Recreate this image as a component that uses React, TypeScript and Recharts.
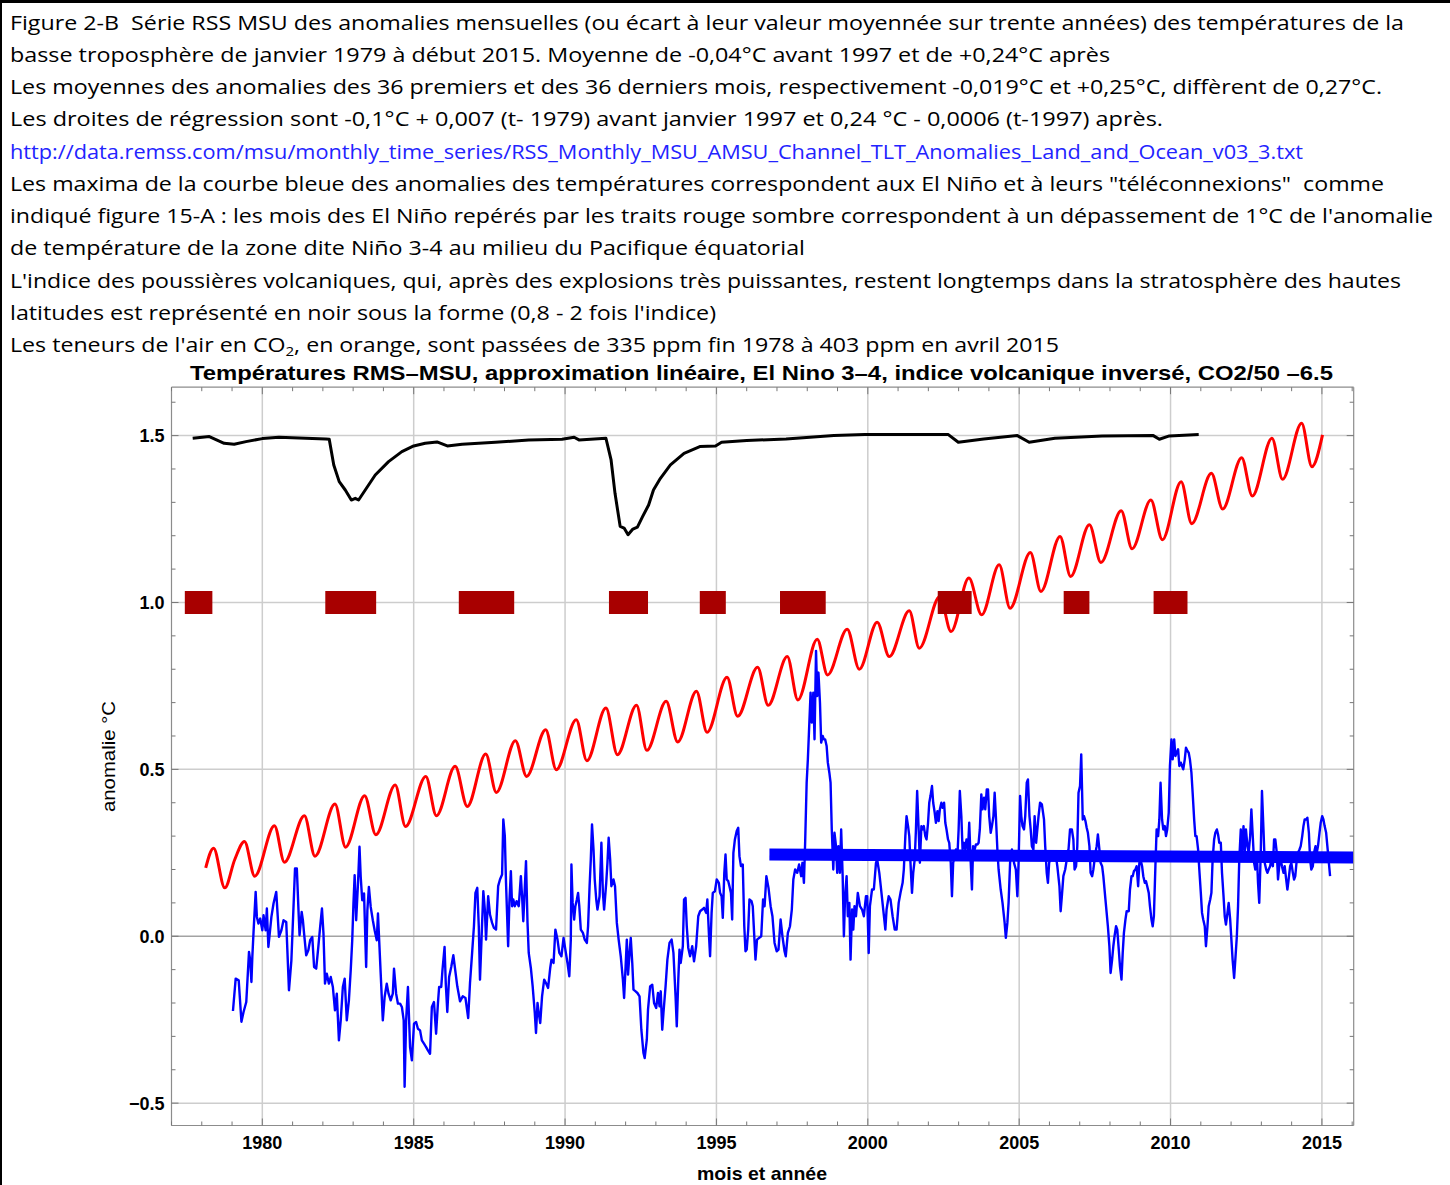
import React from 'react';
import { LineChart, Line, XAxis, YAxis, CartesianGrid } from 'recharts';

type P = [number, number];

// ---------- axes ----------
const X_DOMAIN: [number, number] = [1977, 2016.05];
const Y_DOMAIN: [number, number] = [-0.567, 1.645];
const yearTicks = [1977, 1978, 1979, 1980, 1981, 1982, 1983, 1984, 1985, 1986, 1987, 1988, 1989, 1990, 1991, 1992, 1993, 1994, 1995, 1996, 1997, 1998, 1999, 2000, 2001, 2002, 2003, 2004, 2005, 2006, 2007, 2008, 2009, 2010, 2011, 2012, 2013, 2014, 2015, 2016];
const yearLabels = [1980, 1985, 1990, 1995, 2000, 2005, 2010, 2015];
const valueTicks = [-0.5, -0.4, -0.3, -0.2, -0.1, 0, 0.1, 0.2, 0.3, 0.4, 0.5, 0.6, 0.7, 0.8, 0.9, 1, 1.1, 1.2, 1.3, 1.4, 1.5, 1.6];
const valueLabelTicks = [-0.5, 0, 0.5, 1, 1.5];
const valueLabelTexts = ['\u22120.5', '0.0', '0.5', '1.0', '1.5'];
const gridYears = [1980, 1985, 1990, 1995, 2000, 2005, 2010, 2015];
const gridValues = [-0.5, 0.5, 1, 1.5];
const zeroLine = [0];

// ---------- volcanic index (black) ----------
const volcanic: P[] = [[1977.70, 1.492], [1978.25, 1.497], [1978.74, 1.477], [1979.07, 1.474], [1979.46, 1.482], [1980.0, 1.491], [1980.55, 1.495], [1982.10, 1.49], [1982.21, 1.489], [1982.36, 1.412], [1982.54, 1.362], [1982.74, 1.337], [1982.94, 1.307], [1983.07, 1.312], [1983.18, 1.307], [1983.40, 1.337], [1983.73, 1.382], [1984.17, 1.422], [1984.61, 1.452], [1985.0, 1.469], [1985.38, 1.477], [1985.77, 1.481], [1986.11, 1.469], [1986.6, 1.474], [1987.7, 1.48], [1988.8, 1.487], [1989.9, 1.489], [1990.3, 1.495], [1990.46, 1.487], [1991.35, 1.492], [1991.52, 1.427], [1991.65, 1.327], [1991.82, 1.228], [1991.95, 1.223], [1992.08, 1.203], [1992.24, 1.22], [1992.39, 1.226], [1992.56, 1.257], [1992.76, 1.292], [1992.92, 1.337], [1993.15, 1.372], [1993.48, 1.412], [1993.93, 1.447], [1994.45, 1.467], [1994.97, 1.469], [1995.17, 1.48], [1996.0, 1.485], [1997.3, 1.49], [1998.88, 1.5], [1999.9, 1.503], [2002.66, 1.503], [2002.99, 1.48], [2003.83, 1.49], [2004.94, 1.5], [2005.33, 1.48], [2006.18, 1.492], [2007.74, 1.499], [2009.43, 1.5], [2009.63, 1.489], [2009.96, 1.499], [2010.93, 1.503]];

// ---------- CO2/50 - 6.5 (red) : seasonal peaks and troughs ----------
const co2: P[] = [[1978.13, 0.205], [1978.39, 0.264], [1978.76, 0.145], [1979.09, 0.23], [1979.41, 0.284], [1979.75, 0.18], [1980.40, 0.331], [1980.73, 0.222], [1981.39, 0.361], [1981.74, 0.24], [1982.40, 0.396], [1982.75, 0.267], [1983.38, 0.421], [1983.75, 0.304], [1984.39, 0.453], [1984.73, 0.329], [1985.40, 0.479], [1985.75, 0.361], [1986.37, 0.509], [1986.77, 0.389], [1987.38, 0.546], [1987.73, 0.431], [1988.36, 0.586], [1988.73, 0.479], [1989.36, 0.619], [1989.71, 0.499], [1990.37, 0.649], [1990.72, 0.526], [1991.35, 0.684], [1991.73, 0.544], [1992.36, 0.692], [1992.70, 0.557], [1993.34, 0.704], [1993.72, 0.582], [1994.34, 0.734], [1994.69, 0.611], [1995.35, 0.776], [1995.70, 0.659], [1996.36, 0.806], [1996.71, 0.692], [1997.34, 0.838], [1997.69, 0.708], [1998.33, 0.89], [1998.67, 0.783], [1999.32, 0.92], [1999.72, 0.80], [2000.31, 0.941], [2000.71, 0.838], [2001.37, 0.975], [2001.70, 0.863], [2002.38, 1.018], [2002.75, 0.913], [2003.34, 1.073], [2003.76, 0.963], [2004.34, 1.113], [2004.70, 0.983], [2005.37, 1.15], [2005.72, 1.033], [2006.35, 1.198], [2006.70, 1.078], [2007.32, 1.233], [2007.70, 1.12], [2008.37, 1.275], [2008.73, 1.161], [2009.35, 1.307], [2009.73, 1.188], [2010.35, 1.362], [2010.70, 1.236], [2011.35, 1.387], [2011.72, 1.28], [2012.35, 1.434], [2012.70, 1.319], [2013.35, 1.492], [2013.70, 1.369], [2014.33, 1.537], [2014.67, 1.407], [2015.02, 1.502]];

// ---------- El Niño months (dark red bars at 1.0) ----------
const ninoStart = [1977.44, 1982.08, 1986.49, 1991.45, 1994.45, 1997.10, 2002.31, 2006.47, 2009.44];
const ninoEnd = [1978.35, 1983.76, 1988.32, 1992.74, 1995.31, 1998.61, 2003.43, 2007.32, 2010.56];
const ninoLevel = 1.0;

// ---------- RSS MSU TLT monthly anomalies (blue) ----------
const blue1979: P[] = [[1979.03, -0.224], [1979.12, -0.127], [1979.22, -0.132], [1979.31, -0.256], [1979.38, -0.227], [1979.47, -0.197], [1979.56, -0.047], [1979.60, -0.072], [1979.64, -0.137], [1979.67, -0.062], [1979.71, 0.013], [1979.78, 0.133], [1979.82, 0.058], [1979.87, 0.038], [1979.93, 0.053], [1980.00, 0.018], [1980.04, 0.063], [1980.11, 0.018], [1980.15, 0.083], [1980.20, -0.032], [1980.24, 0.003], [1980.30, 0.058], [1980.37, 0.098], [1980.46, 0.133], [1980.55, -0.002], [1980.63, 0.018], [1980.70, 0.048], [1980.79, 0.043], [1980.88, -0.162], [1980.96, -0.072], [1981.03, 0.088], [1981.08, 0.203], [1981.14, 0.203], [1981.19, 0.088], [1981.23, 0.003], [1981.30, 0.073], [1981.34, 0.048], [1981.38, 0.008], [1981.45, -0.057], [1981.52, -0.042], [1981.58, -0.012], [1981.65, -0.002], [1981.71, -0.092], [1981.78, -0.097], [1981.85, -0.032], [1981.91, 0.028], [1981.97, 0.083], [1982.02, 0.008], [1982.07, -0.142], [1982.13, -0.112], [1982.20, -0.142], [1982.26, -0.122], [1982.33, -0.152], [1982.40, -0.222], [1982.46, -0.172], [1982.53, -0.312], [1982.59, -0.252], [1982.66, -0.152], [1982.72, -0.127], [1982.79, -0.252], [1982.86, -0.192], [1982.92, -0.102], [1982.97, -0.012], [1983.01, 0.098], [1983.05, 0.183], [1983.10, 0.048], [1983.16, 0.158], [1983.21, 0.268], [1983.25, 0.178], [1983.30, 0.108], [1983.36, 0.128], [1983.43, -0.092], [1983.47, 0.078], [1983.52, 0.148], [1983.58, 0.088], [1983.65, 0.048], [1983.71, 0.018], [1983.78, -0.012], [1983.82, 0.068], [1983.87, -0.032], [1983.91, -0.112], [1983.98, -0.252], [1984.04, -0.182], [1984.11, -0.142], [1984.17, -0.172], [1984.24, -0.192], [1984.31, -0.172], [1984.35, -0.097], [1984.42, -0.172], [1984.48, -0.202], [1984.55, -0.202], [1984.61, -0.212], [1984.67, -0.252], [1984.70, -0.451], [1984.75, -0.252], [1984.81, -0.152], [1984.88, -0.332], [1984.94, -0.372], [1985.01, -0.262], [1985.08, -0.257], [1985.14, -0.277], [1985.21, -0.282], [1985.27, -0.312], [1985.34, -0.322], [1985.41, -0.332], [1985.47, -0.342], [1985.54, -0.352], [1985.60, -0.212], [1985.67, -0.197], [1985.74, -0.292], [1985.80, -0.202], [1985.84, -0.152], [1985.91, -0.152], [1985.95, -0.102], [1986.02, -0.032], [1986.06, -0.142], [1986.11, -0.227], [1986.17, -0.122], [1986.24, -0.092], [1986.31, -0.057]];

const blue1986: P[] = [[1986.44, -0.15], [1986.53, -0.195], [1986.62, -0.18], [1986.71, -0.185], [1986.80, -0.245], [1986.86, -0.14], [1986.93, -0.05], [1986.99, 0.03], [1987.04, 0.13], [1987.10, 0.145], [1987.15, 0.03], [1987.19, -0.13], [1987.24, -0.01], [1987.30, 0.135], [1987.35, 0.08], [1987.39, -0.01], [1987.46, 0.12], [1987.52, 0.065], [1987.59, 0.04], [1987.65, 0.025], [1987.72, 0.02], [1987.79, 0.15], [1987.85, 0.17], [1987.92, 0.185], [1987.96, 0.35], [1988.01, 0.30], [1988.05, 0.16], [1988.12, -0.03], [1988.16, 0.10], [1988.21, 0.195], [1988.25, 0.09], [1988.29, 0.11], [1988.34, 0.09], [1988.40, 0.105], [1988.47, 0.09], [1988.54, 0.18], [1988.58, 0.12], [1988.62, 0.045], [1988.67, 0.145], [1988.71, 0.225], [1988.76, 0.04], [1988.80, -0.05], [1988.87, -0.095], [1988.93, -0.15], [1989.00, -0.23], [1989.04, -0.29], [1989.09, -0.2], [1989.13, -0.23], [1989.18, -0.26], [1989.24, -0.18], [1989.31, -0.13], [1989.37, -0.14], [1989.44, -0.155], [1989.51, -0.095], [1989.55, -0.07], [1989.62, -0.08], [1989.68, 0.02], [1989.75, -0.01], [1989.81, -0.05], [1989.88, -0.06], [1989.95, -0.005], [1990.01, -0.04], [1990.08, -0.08], [1990.14, -0.12], [1990.19, -0.01], [1990.21, 0.215], [1990.25, 0.10], [1990.30, 0.05], [1990.34, 0.09], [1990.39, 0.11], [1990.43, 0.13], [1990.47, 0.09], [1990.52, 0.02], [1990.59, 0.01], [1990.65, -0.01], [1990.72, -0.02], [1990.76, 0.03], [1990.81, 0.15], [1990.85, 0.23], [1990.89, 0.335], [1990.94, 0.26], [1990.98, 0.17], [1991.03, 0.11], [1991.07, 0.08], [1991.14, 0.12], [1991.20, 0.28], [1991.25, 0.13], [1991.29, 0.08], [1991.36, 0.16], [1991.40, 0.22], [1991.44, 0.295], [1991.49, 0.23], [1991.53, 0.15], [1991.60, 0.17], [1991.65, 0.15], [1991.71, 0.04], [1991.77, -0.01], [1991.84, -0.06], [1991.91, -0.13], [1991.95, -0.185], [1992.00, -0.09], [1992.04, -0.01], [1992.08, -0.115], [1992.13, -0.05], [1992.17, -0.005], [1992.22, -0.08], [1992.26, -0.16], [1992.33, -0.165], [1992.39, -0.17], [1992.46, -0.18], [1992.52, -0.28], [1992.59, -0.35], [1992.63, -0.365], [1992.70, -0.31], [1992.74, -0.22], [1992.81, -0.15], [1992.88, -0.145], [1992.94, -0.20], [1993.01, -0.215], [1993.07, -0.17], [1993.12, -0.21], [1993.16, -0.165], [1993.21, -0.28], [1993.25, -0.23], [1993.32, -0.15], [1993.38, -0.07], [1993.45, -0.02], [1993.52, -0.01], [1993.58, -0.05], [1993.65, -0.18], [1993.69, -0.27], [1993.74, -0.13], [1993.78, -0.04], [1993.82, -0.08], [1993.89, -0.03], [1993.93, 0.11], [1993.98, 0.115], [1994.02, 0.03], [1994.07, -0.035], [1994.13, -0.06], [1994.20, -0.03], [1994.26, -0.075], [1994.33, -0.03], [1994.40, 0.06], [1994.46, 0.075], [1994.53, 0.08], [1994.59, 0.085], [1994.66, 0.07], [1994.70, 0.11], [1994.75, 0.01], [1994.79, -0.06], [1994.84, 0.07], [1994.88, 0.13], [1994.95, 0.135], [1995.01, 0.17], [1995.08, 0.16], [1995.12, 0.13], [1995.17, 0.12], [1995.21, 0.055], [1995.26, 0.19], [1995.30, 0.245], [1995.34, 0.17], [1995.39, 0.165], [1995.43, 0.15], [1995.48, 0.13], [1995.52, 0.05], [1995.56, 0.25], [1995.61, 0.29], [1995.67, 0.315], [1995.72, 0.325], [1995.76, 0.24], [1995.81, 0.21], [1995.87, 0.215], [1995.92, 0.03], [1995.96, -0.045], [1996.00, -0.04], [1996.05, 0.02], [1996.09, 0.11], [1996.16, 0.105], [1996.20, 0.09], [1996.25, 0.0], [1996.29, -0.07], [1996.34, -0.01]];

const blue1996: P[] = [[1996.48, 0.0], [1996.54, 0.11], [1996.59, 0.09], [1996.65, 0.18], [1996.72, 0.145], [1996.79, 0.09], [1996.85, 0.06], [1996.92, -0.02], [1996.99, -0.045], [1997.05, -0.04], [1997.12, 0.05], [1997.18, 0.0], [1997.25, -0.045], [1997.29, -0.06], [1997.36, 0.01], [1997.43, 0.03], [1997.49, 0.08], [1997.54, 0.17], [1997.60, 0.2], [1997.67, 0.19], [1997.73, 0.215], [1997.80, 0.18], [1997.84, 0.22], [1997.89, 0.16], [1997.93, 0.28], [1997.98, 0.46], [1998.02, 0.53], [1998.06, 0.62], [1998.11, 0.73], [1998.15, 0.64], [1998.20, 0.73], [1998.24, 0.59], [1998.29, 0.855], [1998.33, 0.72], [1998.37, 0.79], [1998.42, 0.70], [1998.46, 0.58], [1998.51, 0.60], [1998.55, 0.59], [1998.59, 0.59], [1998.64, 0.57], [1998.68, 0.52], [1998.73, 0.49], [1998.77, 0.46], [1998.81, 0.32], [1998.86, 0.20], [1998.90, 0.31], [1998.95, 0.27], [1998.99, 0.19], [1999.03, 0.27], [1999.08, 0.19], [1999.12, 0.32], [1999.17, 0.18], [1999.21, 0.0], [1999.25, 0.12], [1999.30, 0.18], [1999.34, 0.06], [1999.39, 0.10], [1999.43, -0.07], [1999.48, 0.08], [1999.52, 0.02], [1999.56, 0.09], [1999.61, 0.06], [1999.67, 0.13], [1999.74, 0.09], [1999.81, 0.08], [1999.87, 0.06], [1999.94, 0.12], [1999.98, 0.12], [2000.03, -0.05], [2000.07, 0.09], [2000.14, 0.14], [2000.20, 0.14], [2000.27, 0.22], [2000.31, 0.23], [2000.38, 0.19], [2000.44, 0.14], [2000.51, 0.08], [2000.58, 0.02], [2000.62, 0.08], [2000.69, 0.12], [2000.75, 0.11], [2000.82, 0.06], [2000.89, 0.02], [2000.95, 0.02], [2001.02, 0.10], [2001.08, 0.13], [2001.15, 0.16], [2001.19, 0.20], [2001.24, 0.30], [2001.28, 0.36], [2001.33, 0.33], [2001.37, 0.30], [2001.41, 0.22], [2001.46, 0.13], [2001.50, 0.19], [2001.55, 0.23], [2001.59, 0.32], [2001.63, 0.435], [2001.68, 0.32], [2001.72, 0.22], [2001.77, 0.33], [2001.81, 0.32], [2001.85, 0.33], [2001.90, 0.30], [2001.94, 0.29], [2001.99, 0.34], [2002.03, 0.40], [2002.07, 0.42], [2002.12, 0.45], [2002.16, 0.40], [2002.21, 0.37], [2002.25, 0.34], [2002.30, 0.375], [2002.34, 0.345], [2002.38, 0.38], [2002.43, 0.40], [2002.47, 0.385], [2002.52, 0.40], [2002.56, 0.34], [2002.60, 0.32], [2002.65, 0.29], [2002.69, 0.28], [2002.74, 0.22], [2002.78, 0.12], [2002.82, 0.22], [2002.87, 0.24], [2002.91, 0.26], [2002.96, 0.24], [2003.00, 0.32], [2003.04, 0.435], [2003.09, 0.36], [2003.13, 0.26], [2003.18, 0.28], [2003.22, 0.26], [2003.26, 0.29], [2003.31, 0.26], [2003.35, 0.34], [2003.40, 0.22], [2003.44, 0.14], [2003.48, 0.27], [2003.53, 0.26], [2003.57, 0.275], [2003.62, 0.275], [2003.66, 0.28], [2003.70, 0.32], [2003.75, 0.425], [2003.79, 0.38], [2003.84, 0.415], [2003.88, 0.38], [2003.93, 0.44], [2003.97, 0.44], [2004.01, 0.36], [2004.06, 0.31], [2004.10, 0.33], [2004.15, 0.36], [2004.19, 0.43], [2004.23, 0.36], [2004.28, 0.26], [2004.32, 0.20], [2004.39, 0.14], [2004.45, 0.10], [2004.52, 0.04], [2004.56, -0.005], [2004.61, 0.04], [2004.65, 0.10], [2004.70, 0.22], [2004.76, 0.26], [2004.83, 0.22], [2004.89, 0.20], [2004.94, 0.12], [2004.98, 0.22], [2005.03, 0.42], [2005.07, 0.36], [2005.11, 0.33], [2005.16, 0.32], [2005.20, 0.36], [2005.25, 0.46], [2005.29, 0.47], [2005.34, 0.36], [2005.38, 0.32], [2005.42, 0.27], [2005.47, 0.26], [2005.51, 0.36], [2005.56, 0.28], [2005.60, 0.32], [2005.64, 0.36]];

const blue2005: P[] = [[2005.69, 0.40], [2005.75, 0.395], [2005.82, 0.35], [2005.86, 0.27], [2005.91, 0.19], [2005.95, 0.16], [2005.99, 0.22], [2006.06, 0.24], [2006.13, 0.23], [2006.19, 0.255], [2006.26, 0.21], [2006.33, 0.15], [2006.37, 0.075], [2006.41, 0.12], [2006.46, 0.18], [2006.52, 0.20], [2006.59, 0.24], [2006.63, 0.26], [2006.68, 0.32], [2006.74, 0.32], [2006.79, 0.29], [2006.83, 0.20], [2006.88, 0.21], [2006.92, 0.27], [2006.96, 0.43], [2007.01, 0.45], [2007.05, 0.545], [2007.10, 0.35], [2007.14, 0.36], [2007.19, 0.345], [2007.23, 0.325], [2007.27, 0.31], [2007.32, 0.27], [2007.36, 0.19], [2007.41, 0.18], [2007.45, 0.20], [2007.52, 0.25], [2007.56, 0.27], [2007.60, 0.305], [2007.65, 0.26], [2007.69, 0.22], [2007.74, 0.21], [2007.78, 0.18], [2007.85, 0.11], [2007.89, 0.07], [2007.93, 0.03], [2007.98, -0.03], [2008.02, -0.11], [2008.07, -0.07], [2008.11, -0.03], [2008.15, 0.0], [2008.20, 0.03], [2008.24, 0.02], [2008.29, -0.04], [2008.33, -0.09], [2008.38, -0.13], [2008.42, -0.05], [2008.46, 0.01], [2008.51, 0.05], [2008.55, 0.075], [2008.62, 0.075], [2008.66, 0.14], [2008.71, 0.18], [2008.75, 0.18], [2008.79, 0.195], [2008.84, 0.20], [2008.88, 0.21], [2008.93, 0.15], [2008.97, 0.22], [2009.01, 0.23], [2009.06, 0.21], [2009.10, 0.18], [2009.15, 0.16], [2009.19, 0.165], [2009.23, 0.15], [2009.28, 0.13], [2009.32, 0.09], [2009.37, 0.05], [2009.41, 0.03], [2009.45, 0.06], [2009.50, 0.21], [2009.54, 0.32], [2009.59, 0.30], [2009.63, 0.35], [2009.67, 0.46], [2009.72, 0.35], [2009.76, 0.32], [2009.81, 0.33], [2009.85, 0.30], [2009.89, 0.32], [2009.94, 0.37], [2009.98, 0.51], [2010.03, 0.59], [2010.07, 0.53], [2010.12, 0.59], [2010.16, 0.54], [2010.20, 0.55], [2010.25, 0.56], [2010.29, 0.51], [2010.34, 0.52], [2010.38, 0.51], [2010.42, 0.50], [2010.47, 0.53], [2010.51, 0.565], [2010.56, 0.555], [2010.60, 0.55], [2010.64, 0.53], [2010.69, 0.49], [2010.73, 0.43], [2010.78, 0.35], [2010.82, 0.30], [2010.86, 0.30], [2010.91, 0.26], [2010.95, 0.20], [2011.00, 0.13], [2011.04, 0.07], [2011.08, 0.05], [2011.13, 0.03], [2011.17, -0.03], [2011.22, 0.03], [2011.26, 0.09], [2011.31, 0.11], [2011.35, 0.13], [2011.39, 0.23], [2011.44, 0.29], [2011.48, 0.31], [2011.53, 0.32], [2011.57, 0.305], [2011.61, 0.28], [2011.66, 0.28], [2011.70, 0.19], [2011.75, 0.12], [2011.79, 0.06], [2011.83, 0.035], [2011.88, 0.07], [2011.92, 0.10], [2011.97, 0.05], [2012.01, -0.01], [2012.05, -0.07], [2012.10, -0.125], [2012.14, -0.07], [2012.19, 0.0], [2012.23, 0.09], [2012.27, 0.23], [2012.32, 0.32], [2012.36, 0.25], [2012.41, 0.33], [2012.45, 0.25], [2012.49, 0.32], [2012.54, 0.27], [2012.58, 0.25], [2012.63, 0.30], [2012.67, 0.38], [2012.71, 0.31], [2012.76, 0.22], [2012.80, 0.20], [2012.85, 0.25], [2012.89, 0.16], [2012.93, 0.10], [2012.98, 0.25], [2013.02, 0.435], [2013.07, 0.32], [2013.11, 0.22], [2013.16, 0.20], [2013.20, 0.19], [2013.24, 0.20], [2013.29, 0.21], [2013.33, 0.23], [2013.38, 0.21], [2013.42, 0.29], [2013.46, 0.29], [2013.51, 0.25], [2013.55, 0.17], [2013.60, 0.22], [2013.64, 0.23], [2013.68, 0.21], [2013.73, 0.19], [2013.77, 0.21], [2013.82, 0.17], [2013.86, 0.14], [2013.90, 0.17], [2013.95, 0.21], [2013.99, 0.22], [2014.04, 0.19], [2014.08, 0.17], [2014.12, 0.18], [2014.17, 0.23], [2014.21, 0.25], [2014.26, 0.26], [2014.30, 0.27], [2014.35, 0.30], [2014.39, 0.33], [2014.43, 0.35], [2014.48, 0.35], [2014.52, 0.355], [2014.57, 0.31], [2014.61, 0.23], [2014.65, 0.20], [2014.70, 0.21], [2014.74, 0.25], [2014.79, 0.27], [2014.83, 0.25], [2014.87, 0.27], [2014.92, 0.31], [2014.96, 0.34], [2015.01, 0.36], [2015.05, 0.35], [2015.09, 0.33], [2015.14, 0.31], [2015.18, 0.27], [2015.23, 0.22], [2015.27, 0.18]];

// ---------- regression after 1997 (thick blue) ----------
const regression: P[] = [[1996.75, 0.245], [2016.05, 0.236]];

// ---------- texts ----------
const headerLines = [
  'Figure 2-B  Série RSS MSU des anomalies mensuelles (ou écart à leur valeur moyennée sur trente années) des températures de la',
  'basse troposphère de janvier 1979 à début 2015. Moyenne de -0,04°C avant 1997 et de +0,24°C après',
  'Les moyennes des anomalies des 36 premiers et des 36 derniers mois, respectivement -0,019°C et +0,25°C, diffèrent de 0,27°C.',
  'Les droites de régression sont -0,1°C + 0,007 (t- 1979) avant janvier 1997 et 0,24 °C - 0,0006 (t-1997) après.',
  'http://data.remss.com/msu/monthly_time_series/RSS_Monthly_MSU_AMSU_Channel_TLT_Anomalies_Land_and_Ocean_v03_3.txt',
  'Les maxima de la courbe bleue des anomalies des températures correspondent aux El Niño et à leurs "téléconnexions"  comme',
  "indiqué figure 15-A : les mois des El Niño repérés par les traits rouge sombre correspondent à un dépassement de 1°C de l'anomalie",
  'de température de la zone dite Niño 3-4 au milieu du Pacifique équatorial',
  "L'indice des poussières volcaniques, qui, après des explosions très puissantes, restent longtemps dans la stratosphère des hautes",
  "latitudes est représenté en noir sous la forme (0,8 - 2 fois l'indice)",
];
const co2LineParts = ["Les teneurs de l'air en CO", '2', ', en orange, sont passées de 335 ppm fin 1978 à 403 ppm en avril 2015'];
const chartTitle = 'Températures RMS–MSU, approximation linéaire, El Nino 3–4, indice volcanique inversé, CO2/50 –6.5';
const xTitle = 'mois et année';
const yTitle = 'anomalie °C';

// layout (not data)
const headerWidths = [1394, 1100, 1372, 1153, 1293, 1374, 1423, 795, 1391, 706, 1049];
const URL_LINE = 4;

const toXY = (arr: P[]) => arr.map(([x, y]) => ({ x, y }));

const FRAME = '#8c8c8c';
const TICK = '#777';
const AXIS_FONT = "'Liberation Sans', Arial, sans-serif";
const HEAD_FONT = "'Open Sans', 'Noto Sans', sans-serif";

const BottomTick = (props: any) => {
  const { x, y, payload } = props;
  const v = payload.value;
  const major = yearLabels.indexOf(v) >= 0;
  return (
    <g>
      <line x1={x} x2={x} y1={y} y2={y - (major ? 7 : 4)} stroke={TICK} strokeWidth={1} />
      {major ? (
        <text x={x} y={y + 23} textAnchor="middle" fontFamily={AXIS_FONT} fontWeight="bold" fontSize={18} fill="#000">
          {v}
        </text>
      ) : null}
    </g>
  );
};

const TopTick = (props: any) => {
  const { x, y, payload } = props;
  const major = yearLabels.indexOf(payload.value) >= 0;
  return <line x1={x} x2={x} y1={y} y2={y + (major ? 7 : 4)} stroke={TICK} strokeWidth={1} />;
};

const labelIndex = (v: number) => valueLabelTicks.findIndex((t) => Math.abs(t - v) < 1e-6);

const LeftTick = (props: any) => {
  const { x, y, payload } = props;
  const i = labelIndex(payload.value);
  const major = i >= 0;
  return (
    <g>
      <line x1={x} x2={x + (major ? 7 : 4)} y1={y} y2={y} stroke={TICK} strokeWidth={1} />
      {major ? (
        <text x={x - 7} y={y + 6.5} textAnchor="end" fontFamily={AXIS_FONT} fontWeight="bold" fontSize={18} fill="#000">
          {valueLabelTexts[i]}
        </text>
      ) : null}
    </g>
  );
};

const RightTick = (props: any) => {
  const { x, y, payload } = props;
  const major = labelIndex(payload.value) >= 0;
  return <line x1={x} x2={x - (major ? 7 : 4)} y1={y} y2={y} stroke={TICK} strokeWidth={1} />;
};

export default function App() {
  const blueData = toXY([...blue1979, ...blue1986, ...blue1996, ...blue2005]);
  const blackData = toXY(volcanic);
  const redData = toXY(co2);
  const regData = toXY(regression);
  const ninoData = ninoStart.map((s, i) => [
    { x: s, y: ninoLevel },
    { x: ninoEnd[i], y: ninoLevel },
  ]);

  return (
    <div style={{ position: 'absolute', left: 0, top: 0, width: 1450, height: 1185, background: '#fff', overflow: 'hidden' }}>
      <div style={{ position: 'absolute', left: 0, top: 0 }}>
        <LineChart width={1450} height={1185} margin={{ top: 386.2, right: 95.3, bottom: 29.5, left: 111.5 }}>
          <CartesianGrid horizontalValues={gridValues} verticalValues={gridYears} stroke="#cdcdcd" strokeWidth={1.5} />
          <CartesianGrid horizontalValues={zeroLine} vertical={false} stroke="#a3a3a3" strokeWidth={1.5} />
          <XAxis
            dataKey="x"
            type="number"
            domain={X_DOMAIN}
            allowDataOverflow
            ticks={yearTicks}
            interval={0}
            tickSize={0}
            tickMargin={0}
            tickLine={false}
            tick={<BottomTick />}
            axisLine={{ stroke: FRAME, strokeWidth: 1.2 }}
            height={30}
          />
          <XAxis
            xAxisId="top"
            orientation="top"
            dataKey="x"
            type="number"
            domain={X_DOMAIN}
            allowDataOverflow
            ticks={yearTicks}
            interval={0}
            tickSize={0}
            tickMargin={0}
            tickLine={false}
            tick={<TopTick />}
            axisLine={{ stroke: FRAME, strokeWidth: 1.2 }}
            height={1}
          />
          <YAxis
            type="number"
            domain={Y_DOMAIN}
            allowDataOverflow
            ticks={valueTicks}
            interval={0}
            tickSize={0}
            tickMargin={0}
            tickLine={false}
            tick={<LeftTick />}
            axisLine={{ stroke: FRAME, strokeWidth: 1.2 }}
            width={60}
          />
          <YAxis
            yAxisId="right"
            orientation="right"
            type="number"
            domain={Y_DOMAIN}
            allowDataOverflow
            ticks={valueTicks}
            interval={0}
            tickSize={0}
            tickMargin={0}
            tickLine={false}
            tick={<RightTick />}
            axisLine={{ stroke: FRAME, strokeWidth: 1.2 }}
            width={1}
          />
          <Line data={blackData} dataKey="y" type="linear" stroke="#000" strokeWidth={3} dot={false} activeDot={false} isAnimationActive={false} strokeLinejoin="round" />
          <Line data={redData} dataKey="y" type="monotone" stroke="#ff0000" strokeWidth={3} dot={false} activeDot={false} isAnimationActive={false} strokeLinejoin="round" />
          {ninoData.map((d, i) => (
            <Line key={'nino' + i} data={d} dataKey="y" type="linear" stroke="#a80000" strokeWidth={23} strokeLinecap="butt" dot={false} activeDot={false} isAnimationActive={false} />
          ))}
          <Line data={blueData} dataKey="y" type="linear" stroke="#0000ff" strokeWidth={2.4} dot={false} activeDot={false} isAnimationActive={false} strokeLinejoin="round" />
          <Line data={regData} dataKey="y" type="linear" stroke="#0000ff" strokeWidth={12} strokeLinecap="butt" dot={false} activeDot={false} isAnimationActive={false} />
        </LineChart>
      </div>
      <svg width={1450} height={1185} style={{ position: 'absolute', left: 0, top: 0, pointerEvents: 'none' }}>
        <line x1={0} x2={1450} y1={1.5} y2={1.5} stroke="#000" strokeWidth={3} />
        <line x1={1} x2={1} y1={0} y2={1185} stroke="#000" strokeWidth={2} />
        {headerLines.map((t, i) => (
          <text
            key={i}
            x={10}
            y={29.5 + 32.25 * i}
            fontFamily={HEAD_FONT}
            fontSize={20}
            fill={i === URL_LINE ? '#2323ff' : '#000'}
            textLength={headerWidths[i]}
            lengthAdjust="spacingAndGlyphs"
            style={{ whiteSpace: 'pre' }}
          >
            {t}
          </text>
        ))}
        <text
          x={10}
          y={29.5 + 32.25 * 10}
          fontFamily={HEAD_FONT}
          fontSize={20}
          fill="#000"
          textLength={headerWidths[10]}
          lengthAdjust="spacingAndGlyphs"
        >
          {co2LineParts[0]}
          <tspan fontSize={13} dy={4}>{co2LineParts[1]}</tspan>
          <tspan dy={-4}>{co2LineParts[2]}</tspan>
        </text>
        <text x={761.5} y={380} textAnchor="middle" fontFamily={AXIS_FONT} fontWeight="bold" fontSize={21} fill="#000" textLength={1143} lengthAdjust="spacingAndGlyphs">
          {chartTitle}
        </text>
        <text x={762} y={1180} textAnchor="middle" fontFamily={AXIS_FONT} fontWeight="bold" fontSize={19} fill="#000" textLength={130} lengthAdjust="spacingAndGlyphs">
          {xTitle}
        </text>
        <text x={0} y={0} transform="translate(114.5 756.5) rotate(-90)" textAnchor="middle" fontFamily={AXIS_FONT} fontSize={19} fill="#000" textLength={111} lengthAdjust="spacingAndGlyphs">
          {yTitle}
        </text>
      </svg>
    </div>
  );
}
